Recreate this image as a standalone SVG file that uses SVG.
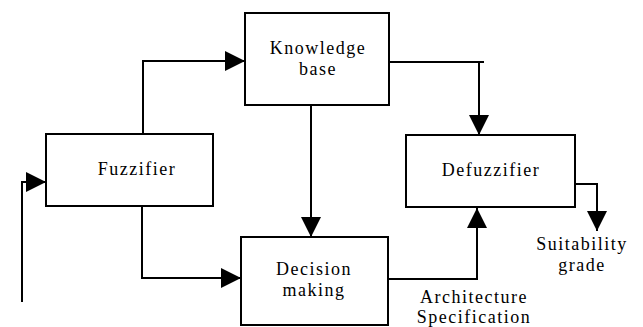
<svg xmlns="http://www.w3.org/2000/svg" width="643" height="327" viewBox="0 0 643 327">
<style>
.box{fill:#fff;stroke:#000;stroke-width:2}
.ln{fill:none;stroke:#000;stroke-width:2;marker-end:url(#ah)}
.t{font-size:18px;letter-spacing:1.5px;fill:#000;text-anchor:middle}
</style>
<defs>
<marker id="ah" markerUnits="userSpaceOnUse" markerWidth="20" markerHeight="20" refX="20" refY="10" orient="auto">
<path d="M0,0 L20,10 L0,20 z" fill="#000"/>
</marker>
</defs>
<rect width="643" height="327" fill="#fff"/>
<g id="connectors">
<path class="ln" d="M22,302 V182 H46"/>
<path class="ln" d="M143,134 V61 H245"/>
<path class="ln" d="M142,206 V278 H241"/>
<path class="ln" d="M311,105 V237"/>
<path class="ln" d="M389,62 H484 M479,62 V135"/>
<path class="ln" d="M388,279 H477 V208"/>
<path class="ln" d="M575,184 H597 V231"/>
</g>
<g font-family="Liberation Serif, DejaVu Serif, serif">
<g id="knowledge-base">
<rect class="box" x="245" y="13" width="144" height="92"/>
<text class="t" x="318" y="54">Knowledge</text>
<text class="t" x="318" y="75">base</text>
</g>
<g id="fuzzifier">
<rect class="box" x="46" y="134" width="167" height="72"/>
<text class="t" x="137" y="175">Fuzzifier</text>
</g>
<g id="defuzzifier">
<rect class="box" x="406" y="135" width="169" height="72"/>
<text class="t" x="491" y="176">Defuzzifier</text>
</g>
<g id="decision-making">
<rect class="box" x="241" y="237" width="147" height="88"/>
<text class="t" x="314" y="275">Decision</text>
<text class="t" x="314" y="296">making</text>
</g>
<g id="labels">
<text class="t" x="582" y="250">Suitability</text>
<text class="t" x="582" y="271">grade</text>
<text class="t" x="474" y="303">Architecture</text>
<text class="t" x="474" y="323">Specification</text>
</g>
</g>
</svg>
